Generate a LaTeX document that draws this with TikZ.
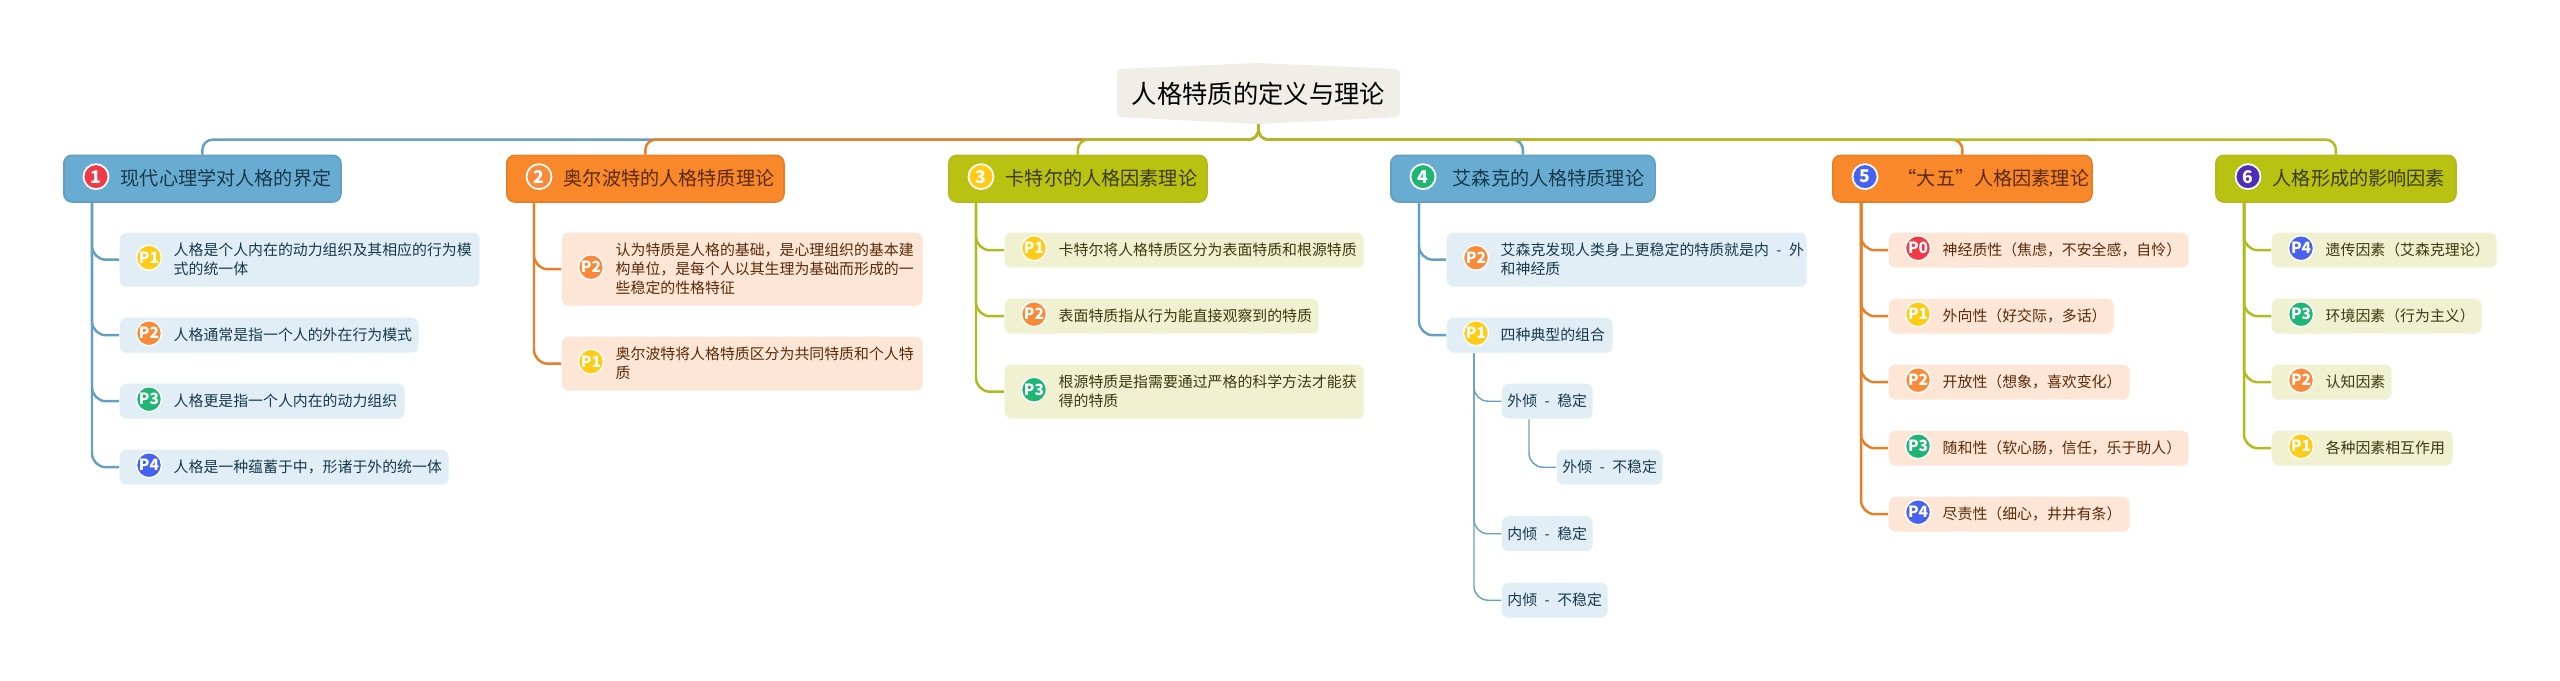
\documentclass[tikz,border=0pt]{standalone}
\usepackage{fontspec}
\usepackage{xcolor}
\usetikzlibrary{calc}
\setmainfont{Noto Sans CJK SC}
\definecolor{Map_Blue}{HTML}{69ACD1}
\definecolor{Map_BlueLine}{HTML}{659FC1}
\definecolor{Map_BlueLeaf}{HTML}{E1EEF6}
\definecolor{Map_BlueInk}{HTML}{17394D}
\definecolor{Map_Orange}{HTML}{F9882A}
\definecolor{Map_OrangeLine}{HTML}{E58029}
\definecolor{Map_OrangeLeaf}{HTML}{FDE6D6}
\definecolor{Map_OrangeInk}{HTML}{5A2A08}
\definecolor{Map_Olive}{HTML}{B9C111}
\definecolor{Map_OliveLine}{HTML}{B1BA1E}
\definecolor{Map_OliveLeaf}{HTML}{EFF1D0}
\definecolor{Map_OliveInk}{HTML}{3A3A10}
\definecolor{Map_Root}{HTML}{EFEFE8}
\definecolor{Pri_Red}{HTML}{F23A47}
\definecolor{Pri_Orange}{HTML}{F98A3A}
\definecolor{Pri_Yellow}{HTML}{FFCB14}
\definecolor{Pri_Green}{HTML}{1FB573}
\definecolor{Pri_Blue}{HTML}{4761F0}
\definecolor{Pri_Purple}{HTML}{4F2DB8}
\tikzset{
  topic/.style={anchor=north west, inner sep=0pt, rounded corners=.08cm, line width=.5pt, minimum height=.465cm},
  topicblue/.style={topic, draw=Map_BlueLine, fill=Map_Blue},
  topicorange/.style={topic, draw=Map_OrangeLine, fill=Map_Orange},
  topicolive/.style={topic, draw=Map_OliveLine, fill=Map_Olive},
  topicnum/.style={circle, draw=white, line width=.5pt, inner sep=0pt, minimum size=.25cm, text=white, font=\fontsize{5}{5}\bfseries, xshift=.33cm, yshift=.02cm},
  topictext/.style={anchor=west, inner sep=0pt, font=\fontsize{5.45}{7}\selectfont, xshift=.57cm},
  leaf/.style={anchor=north west, inner sep=0pt, rounded corners=.07cm, minimum height=.35cm},
  leafblue/.style={leaf, fill=Map_BlueLeaf, text=Map_BlueInk, font=\fontsize{4.24}{5.4}\selectfont},
  leaforange/.style={leaf, fill=Map_OrangeLeaf},
  leafolive/.style={leaf, fill=Map_OliveLeaf},
  prio/.style={circle, draw=white, line width=.4pt, inner sep=0pt, minimum size=.25cm, text=white, font=\fontsize{4.4}{4.4}\bfseries, xshift=.30cm, yshift=.02cm},
  leaftext/.style={anchor=west, inner sep=0pt, align=left, font=\fontsize{4.24}{5.4}\selectfont, xshift=.54cm},
  linkblue/.style={Map_BlueLine, line width=.7pt, rounded corners=.14cm},
  linkorange/.style={Map_OrangeLine, line width=.7pt, rounded corners=.14cm},
  linkolive/.style={Map_OliveLine, line width=.7pt, rounded corners=.14cm},
  linkthin/.style={Map_BlueLine, line width=.4pt, rounded corners=.14cm}
}
\begin{document}
\begin{tikzpicture}
    \useasboundingbox (0,0) rectangle (25.6,-6.8);

    % Central title
    \fill[Map_Root, rounded corners=.05cm] (11.17,-.69) -- (12.585,-.63) -- (14,-.69) -- (14,-1.17) -- (12.585,-1.24) -- (11.17,-1.17) -- cycle;
    \node[inner sep=0pt, minimum width=2.83cm, minimum height=.61cm, font=\fontsize{7.2}{8}\selectfont] (root) at (12.585,-.935) {人格特质的定义与理论};

    % Six topics
    \node[topicblue, minimum width=2.77cm] (t1) at (.63,-1.545) {};
    \node[topicnum, fill=Pri_Red] (t1n) at (t1.west) {1};
    \node[topictext, text=Map_BlueInk] (t1t) at (t1.west) {现代心理学对人格的界定};
    \node[topicorange, minimum width=2.77cm] (t2) at (5.06,-1.545) {};
    \node[topicnum, fill=Pri_Orange] (t2n) at (t2.west) {2};
    \node[topictext, text=Map_OrangeInk] (t2t) at (t2.west) {奥尔波特的人格特质理论};
    \node[topicolive, minimum width=2.58cm] (t3) at (9.48,-1.545) {};
    \node[topicnum, fill=Pri_Yellow] (t3n) at (t3.west) {3};
    \node[topictext, text=Map_OliveInk] (t3t) at (t3.west) {卡特尔的人格因素理论};
    \node[topicblue, minimum width=2.64cm] (t4) at (13.90,-1.545) {};
    \node[topicnum, fill=Pri_Green] (t4n) at (t4.west) {4};
    \node[topictext, text=Map_BlueInk, xshift=.05cm] (t4t) at (t4.west) {艾森克的人格特质理论};
    \node[topicorange, minimum width=2.59cm] (t5) at (18.32,-1.545) {};
    \node[topicnum, fill=Pri_Blue] (t5n) at (t5.west) {5};
    \node[topictext, text=Map_OrangeInk, xshift=.08cm] (t5t) at (t5.west) {“大五”人格因素理论};
    \node[topicolive, minimum width=2.40cm] (t6) at (22.15,-1.545) {};
    \node[topicnum, fill=Pri_Purple] (t6n) at (t6.west) {6};
    \node[topictext, text=Map_OliveInk] (t6t) at (t6.west) {人格形成的影响因素};

    % Branches from the title
    \draw[linkblue, rounded corners=.1cm] (root.south) -- ++(0,-.15) -| (t1.north);
    \draw[linkblue, rounded corners=.1cm] (root.south) -- ++(0,-.15) -| (t4.north);
    \draw[linkorange, rounded corners=.1cm] (root.south) -- ++(0,-.15) -| (t2.north);
    \draw[linkorange, rounded corners=.1cm] (root.south) -- ++(0,-.15) -| (t5.north);
    \draw[linkolive, rounded corners=.1cm] (root.south) -- ++(0,-.15) -| (t3.north);
    \draw[linkolive, rounded corners=.1cm] (root.south) -- ++(0,-.15) -| (t6.north);

    % Topic 1
    \node[leafblue, minimum width=3.60cm, minimum height=.54cm] (a1) at (1.19,-2.32) {};
    \node[prio, fill=Pri_Yellow] (a1p) at (a1.west) {P1};
    \node[leaftext, text=Map_BlueInk] (a1t) at (a1.west) {人格是个人内在的动力组织及其相应的行为模\\式的统一体};
    \node[leafblue, minimum width=2.99cm] (a2) at (1.19,-3.17) {};
    \node[prio, fill=Pri_Orange] (a2p) at (a2.west) {P2};
    \node[leaftext, text=Map_BlueInk] (a2t) at (a2.west) {人格通常是指一个人的外在行为模式};
    \node[leafblue, minimum width=2.85cm] (a3) at (1.19,-3.83) {};
    \node[prio, fill=Pri_Green] (a3p) at (a3.west) {P3};
    \node[leaftext, text=Map_BlueInk] (a3t) at (a3.west) {人格更是指一个人内在的动力组织};
    \node[leafblue, minimum width=3.29cm] (a4) at (1.19,-4.49) {};
    \node[prio, fill=Pri_Blue] (a4p) at (a4.west) {P4};
    \node[leaftext, text=Map_BlueInk] (a4t) at (a4.west) {人格是一种蕴蓄于中，形诸于外的统一体};
    \coordinate (t1b) at ($(t1.south west)+(.29,0)$);
    \draw[linkblue] (t1b) |- (a1.west);
    \draw[linkblue] (t1b) |- (a2.west);
    \draw[linkblue] (t1b) |- (a3.west);
    \draw[linkblue] (t1b) |- (a4.west);

    % Topic 2
    \node[leaforange, minimum width=3.61cm, minimum height=.73cm] (b1) at (5.61,-2.32) {};
    \node[prio, fill=Pri_Orange] (b1p) at (b1.west) {P2};
    \node[leaftext, text=Map_OrangeInk] (b1t) at (b1.west) {认为特质是人格的基础，是心理组织的基本建\\构单位，是每个人以其生理为基础而形成的一\\些稳定的性格特征};
    \node[leaforange, minimum width=3.61cm, minimum height=.54cm] (b2) at (5.61,-3.36) {};
    \node[prio, fill=Pri_Yellow] (b2p) at (b2.west) {P1};
    \node[leaftext, text=Map_OrangeInk] (b2t) at (b2.west) {奥尔波特将人格特质区分为共同特质和个人特\\质};
    \coordinate (t2b) at ($(t2.south west)+(.28,0)$);
    \draw[linkorange] (t2b) |- (b1.west);
    \draw[linkorange] (t2b) |- (b2.west);

    % Topic 3
    \node[leafolive, minimum width=3.59cm] (d1) at (10.04,-2.32) {};
    \node[prio, fill=Pri_Yellow] (d1p) at (d1.west) {P1};
    \node[leaftext, text=Map_OliveInk] (d1t) at (d1.west) {卡特尔将人格特质区分为表面特质和根源特质};
    \node[leafolive, minimum width=3.14cm] (d2) at (10.04,-2.98) {};
    \node[prio, fill=Pri_Orange] (d2p) at (d2.west) {P2};
    \node[leaftext, text=Map_OliveInk] (d2t) at (d2.west) {表面特质指从行为能直接观察到的特质};
    \node[leafolive, minimum width=3.59cm, minimum height=.54cm] (d3) at (10.04,-3.64) {};
    \node[prio, fill=Pri_Green] (d3p) at (d3.west) {P3};
    \node[leaftext, text=Map_OliveInk] (d3t) at (d3.west) {根源特质是指需要通过严格的科学方法才能获\\得的特质};
    \coordinate (t3b) at ($(t3.south west)+(.28,0)$);
    \draw[linkolive] (t3b) |- (d1.west);
    \draw[linkolive] (t3b) |- (d2.west);
    \draw[linkolive] (t3b) |- (d3.west);

    % Topic 4
    \node[leafblue, minimum width=3.60cm, minimum height=.54cm] (e1) at (14.46,-2.32) {};
    \node[prio, fill=Pri_Orange] (e1p) at (e1.west) {P2};
    \node[leaftext, text=Map_BlueInk] (e1t) at (e1.west) {艾森克发现人类身上更稳定的特质就是内\enskip-\enskip{}外\\和神经质};
    \node[leafblue, minimum width=1.66cm] (e2) at (14.46,-3.17) {};
    \node[prio, fill=Pri_Yellow] (e2p) at (e2.west) {P1};
    \node[leaftext, text=Map_BlueInk] (e2t) at (e2.west) {四种典型的组合};
    \node[leafblue, minimum width=.91cm] (f1) at (15.01,-3.83) {外倾\enskip-\enskip{}稳定};
    \node[leafblue, minimum width=1.06cm] (f2) at (15.56,-4.49) {外倾\enskip-\enskip{}不稳定};
    \node[leafblue, minimum width=.91cm] (f3) at (15.01,-5.155) {内倾\enskip-\enskip{}稳定};
    \node[leafblue, minimum width=1.06cm] (f4) at (15.01,-5.82) {内倾\enskip-\enskip{}不稳定};
    \coordinate (t4b) at ($(t4.south west)+(.29,0)$);
    \coordinate (e2b) at ($(e2.south west)+(.28,0)$);
    \coordinate (f1b) at ($(f1.south west)+(.28,0)$);
    \draw[linkblue] (t4b) |- (e1.west);
    \draw[linkblue] (t4b) |- (e2.west);
    \draw[linkthin] (e2b) |- (f1.west);
    \draw[linkthin] (f1b) |- (f2.west);
    \draw[linkthin] (e2b) |- (f3.west);
    \draw[linkthin] (e2b) |- (f4.west);

    % Topic 5
    \node[leaforange, minimum width=3.00cm] (g1) at (18.88,-2.32) {};
    \node[prio, fill=Pri_Red] (g1p) at (g1.west) {P0};
    \node[leaftext, text=Map_OrangeInk] (g1t) at (g1.west) {神经质性（焦虑，不安全感，自怜）};
    \node[leaforange, minimum width=2.25cm] (g2) at (18.88,-2.98) {};
    \node[prio, fill=Pri_Yellow] (g2p) at (g2.west) {P1};
    \node[leaftext, text=Map_OrangeInk] (g2t) at (g2.west) {外向性（好交际，多话）};
    \node[leaforange, minimum width=2.41cm] (g3) at (18.88,-3.64) {};
    \node[prio, fill=Pri_Orange] (g3p) at (g3.west) {P2};
    \node[leaftext, text=Map_OrangeInk] (g3t) at (g3.west) {开放性（想象，喜欢变化）};
    \node[leaforange, minimum width=3.00cm] (g4) at (18.88,-4.30) {};
    \node[prio, fill=Pri_Green] (g4p) at (g4.west) {P3};
    \node[leaftext, text=Map_OrangeInk] (g4t) at (g4.west) {随和性（软心肠，信任，乐于助人）};
    \node[leaforange, minimum width=2.41cm] (g5) at (18.88,-4.96) {};
    \node[prio, fill=Pri_Blue] (g5p) at (g5.west) {P4};
    \node[leaftext, text=Map_OrangeInk] (g5t) at (g5.west) {尽责性（细心，井井有条）};
    \coordinate (t5b) at ($(t5.south west)+(.29,0)$);
    \draw[linkorange] (t5b) |- (g1.west);
    \draw[linkorange] (t5b) |- (g2.west);
    \draw[linkorange] (t5b) |- (g3.west);
    \draw[linkorange] (t5b) |- (g4.west);
    \draw[linkorange] (t5b) |- (g5.west);

    % Topic 6
    \node[leafolive, minimum width=2.25cm] (h1) at (22.71,-2.32) {};
    \node[prio, fill=Pri_Blue] (h1p) at (h1.west) {P4};
    \node[leaftext, text=Map_OliveInk] (h1t) at (h1.west) {遗传因素（艾森克理论）};
    \node[leafolive, minimum width=2.10cm] (h2) at (22.71,-2.98) {};
    \node[prio, fill=Pri_Green] (h2p) at (h2.west) {P3};
    \node[leaftext, text=Map_OliveInk] (h2t) at (h2.west) {环境因素（行为主义）};
    \node[leafolive, minimum width=1.20cm] (h3) at (22.71,-3.64) {};
    \node[prio, fill=Pri_Orange] (h3p) at (h3.west) {P2};
    \node[leaftext, text=Map_OliveInk] (h3t) at (h3.west) {认知因素};
    \node[leafolive, minimum width=1.81cm] (h4) at (22.71,-4.30) {};
    \node[prio, fill=Pri_Yellow] (h4p) at (h4.west) {P1};
    \node[leaftext, text=Map_OliveInk] (h4t) at (h4.west) {各种因素相互作用};
    \coordinate (t6b) at ($(t6.south west)+(.29,0)$);
    \draw[linkolive] (t6b) |- (h1.west);
    \draw[linkolive] (t6b) |- (h2.west);
    \draw[linkolive] (t6b) |- (h3.west);
    \draw[linkolive] (t6b) |- (h4.west);
\end{tikzpicture}
\end{document}
